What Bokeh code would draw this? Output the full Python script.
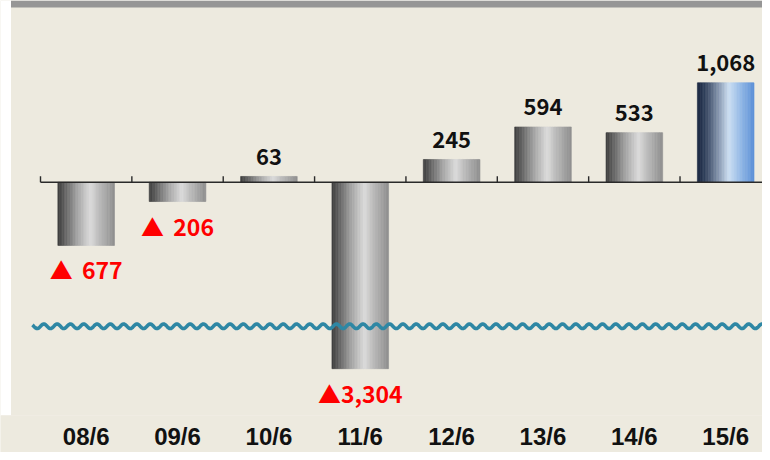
import numpy as np
from bokeh.plotting import figure
from bokeh.models import Range1d, FixedTicker, ColumnDataSource
from bokeh.core.properties import value
from bokeh.embed import file_html
from bokeh.resources import INLINE

# ---------------- data ----------------
dates = ["08/6", "09/6", "10/6", "11/6", "12/6", "13/6", "14/6", "15/6"]
values = [-677, -206, 63, -3304, 245, 594, 533, 1068]
highlight = [False, False, False, False, False, False, False, True]

# broken-axis settings (value units)
BREAK_AT = -1545      # where the wavy break line is drawn
BAR_CAP = -2000       # displayed end of a bar that goes past the break

# ---------------- layout / scales ----------------
FIG_W, FIG_H = 762, 452
BORDER_B = 35
PANEL_LEFT_PX = 10.5                 # white page edge to the left of the panel
Y_PER_PX = 10.68
X_PX_PER_UNIT = 91.36
ZERO_PX = 182.7                      # zero line, px from frame top
FRAME_H = FIG_H - BORDER_B
Y_TOP = ZERO_PX * Y_PER_PX
Y_BOTTOM = -(FRAME_H - ZERO_PX) * Y_PER_PX
X_START = -40 / X_PX_PER_UNIT
X_END = X_START + FIG_W / X_PX_PER_UNIT
X_PANEL = X_START + PANEL_LEFT_PX / X_PX_PER_UNIT

BG = "#edeadf"
LABEL_FONT = "Noto Sans CJK JP"

p = figure(width=FIG_W, height=FIG_H, output_backend="svg", toolbar_location=None,
           x_range=Range1d(X_START, X_END), y_range=Range1d(Y_BOTTOM, Y_TOP),
           min_border_left=0, min_border_right=0, min_border_top=0,
           min_border_bottom=BORDER_B)
p.background_fill_color = BG
p.border_fill_color = BG
p.outline_line_color = None
p.grid.visible = False
p.yaxis.visible = False

# white page edge on the left, gray strip on top
p.quad(left=[X_START], right=[X_PANEL], top=[Y_TOP], bottom=[Y_BOTTOM],
       fill_color="white", line_color=None)
p.quad(left=[X_PANEL], right=[X_END], top=[Y_TOP], bottom=[Y_TOP - 7 * Y_PER_PX],
       fill_color="#969696", line_color=None)

# ---------------- gradient bars ----------------
def interp_color(stops, t):
    ts = [s[0] for s in stops]
    cols = np.array([s[1] for s in stops], dtype=float)
    rgb = [np.interp(t, ts, cols[:, k]) for k in range(3)]
    return "#%02x%02x%02x" % tuple(int(round(c)) for c in rgb)

GRAY_STOPS = [(0.0, (60, 60, 60)), (0.12, (95, 95, 95)), (0.35, (165, 165, 165)),
              (0.58, (220, 220, 220)), (0.72, (190, 190, 190)), (1.0, (142, 142, 142))]
BLUE_STOPS = [(0.0, (24, 37, 63)), (0.15, (52, 68, 95)), (0.38, (135, 151, 176)),
              (0.56, (205, 224, 243)), (0.72, (160, 194, 234)), (1.0, (91, 143, 215))]

BAR_W = 0.62
N = 36
L, R, T, B, C = [], [], [], [], []
for i, v in enumerate(values):
    shown = max(v, BAR_CAP)
    stops = BLUE_STOPS if highlight[i] else GRAY_STOPS
    c = i + 0.5
    for k in range(N):
        l = c - BAR_W / 2 + k * BAR_W / N
        L.append(l)
        R.append(l + BAR_W / N)
        T.append(max(shown, 0))
        B.append(min(shown, 0))
        C.append(interp_color(stops, (k + 0.5) / N))
src = ColumnDataSource(dict(left=L, right=R, top=T, bottom=B, color=C))
p.quad(left="left", right="right", top="top", bottom="bottom", source=src,
       fill_color="color", line_color="color", line_width=0.6)

# ---------------- zero line with ticks ----------------
p.segment(x0=[0], x1=[X_END], y0=[0], y1=[0], line_color="#2a2a2a", line_width=1.6)
tick_x = list(range(len(dates) + 1))
p.segment(x0=tick_x, x1=tick_x, y0=[0] * len(tick_x), y1=[6 * Y_PER_PX] * len(tick_x),
          line_color="#2a2a2a", line_width=1.4)

# ---------------- wavy break line ----------------
wx = np.linspace(-8 / X_PX_PER_UNIT, X_END, 1500)
wy = BREAK_AT + 2.3 * Y_PER_PX * np.sin(2 * np.pi * wx * X_PX_PER_UNIT / 13.3)
p.line(wx, wy, line_color="#2e87a4", line_width=3.6)

# ---------------- value labels ----------------
pos_x, pos_y, pos_t = [], [], []
neg_x, neg_y, neg_t = [], [], []
for i, v in enumerate(values):
    if v >= 0:
        pos_x.append(i + 0.5); pos_y.append(v); pos_t.append(f"{v:,}")
    else:
        neg_x.append(i + 0.5); neg_y.append(max(v, BAR_CAP))
        neg_t.append("▲" + f"{abs(v):>4,}".replace(" ", "\u2009\u2009"))

p.text(x=pos_x, y=pos_y, text=pos_t, text_align="center", text_baseline="alphabetic",
       y_offset=-20, text_font=value(LABEL_FONT), text_font_style="bold",
       text_font_size="22px", text_color="#111111")
p.text(x=neg_x, y=neg_y, text=neg_t, text_align="center", text_baseline="alphabetic",
       y_offset=24, text_font=value(LABEL_FONT), text_font_style="bold",
       text_font_size="23px", text_color="#ff0000")

# ---------------- category axis ----------------
ax = p.xaxis[0]
ax.ticker = FixedTicker(ticks=[i + 0.5 for i in range(len(dates))])
ax.major_label_overrides = {i + 0.5: d for i, d in enumerate(dates)}
ax.axis_line_color = None
ax.major_tick_line_color = None
ax.minor_tick_line_color = None
ax.major_tick_out = 0
ax.major_tick_in = 0
ax.major_label_standoff = 7
ax.major_label_text_font = "Liberation Sans"
ax.major_label_text_font_style = "bold"
ax.major_label_text_font_size = "24px"
ax.major_label_text_color = "#111111"
ax.background_fill_color = BG

open("out.html", "w").write(file_html(p, INLINE))
